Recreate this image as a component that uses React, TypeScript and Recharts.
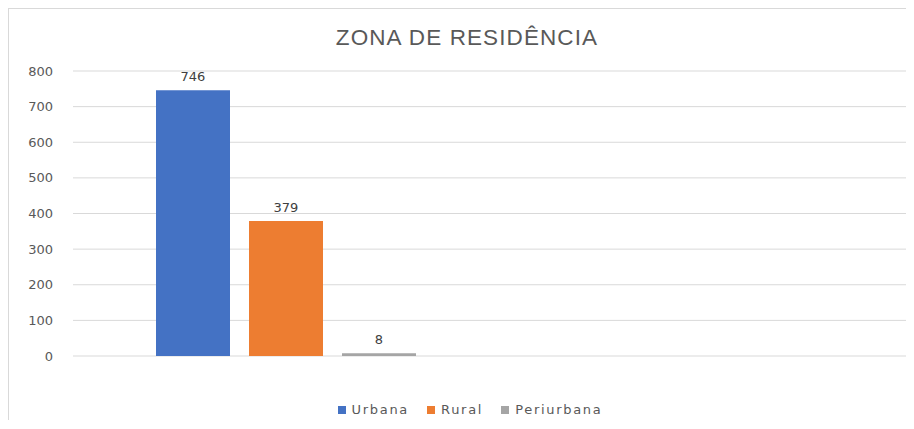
import React from "react";
import { BarChart, Bar, XAxis, YAxis, CartesianGrid, LabelList } from "recharts";

const categories = ["Zona de residência", ""];
const urbana = [746, null];
const rural = [379, null];
const periurbana = [8, null];
const yTicks = [0, 100, 200, 300, 400, 500, 600, 700, 800];
const seriesNames = ["Urbana", "Rural", "Periurbana"];
const seriesColors = ["#4472C4", "#ED7D31", "#A5A5A5"];

const data = categories.map((c, i) => ({
  name: c,
  Urbana: urbana[i],
  Rural: rural[i],
  Periurbana: periurbana[i],
}));

const font = "'DejaVu Sans', Verdana, sans-serif";

export default function App() {
  return (
    <div style={{ position: "relative", width: 905, height: 411, borderLeft: "1px solid #d9d9d9", borderTop: "1px solid #d9d9d9", background: "#fff", overflow: "hidden" }}>
      <div style={{ position: "absolute", left: 0, width: 916, top: 16, textAlign: "center", fontFamily: "'Liberation Sans', Arial, sans-serif", fontSize: 22.5, letterSpacing: 1.1, color: "#595959", lineHeight: "26px" }}>
        ZONA DE RESIDÊNCIA
      </div>
      <BarChart width={916} height={410} data={data} margin={{ top: 62, right: 0, left: 0, bottom: 63 }} barSize={74} barGap={19}>
        <CartesianGrid vertical={false} stroke="#d9d9d9" />
        <XAxis dataKey="name" hide />
        <YAxis domain={[0, 800]} ticks={yTicks} width={64} axisLine={false} tickLine={false} tickMargin={14} tick={{ fill: "#595959", fontSize: 13, fontFamily: font }} />
        {seriesNames.map((n, i) => (
          <Bar key={n} dataKey={n} fill={seriesColors[i]} isAnimationActive={false}>
            <LabelList dataKey={n} position="top" offset={9} fill="#404040" fontSize={13} fontFamily={font} />
          </Bar>
        ))}
      </BarChart>
      <div style={{ position: "absolute", left: 0, width: 922, top: 393, display: "flex", justifyContent: "center", alignItems: "center", fontFamily: font, fontSize: 13, color: "#595959", letterSpacing: 1.7, lineHeight: "16px" }}>
        {seriesNames.map((n, i) => (
          <div key={n} style={{ display: "flex", alignItems: "center", marginRight: i < 2 ? 18 : 0 }}>
            <div style={{ width: 8, height: 8, background: seriesColors[i], marginRight: 6 }} />
            <span>{n}</span>
          </div>
        ))}
      </div>
    </div>
  );
}
